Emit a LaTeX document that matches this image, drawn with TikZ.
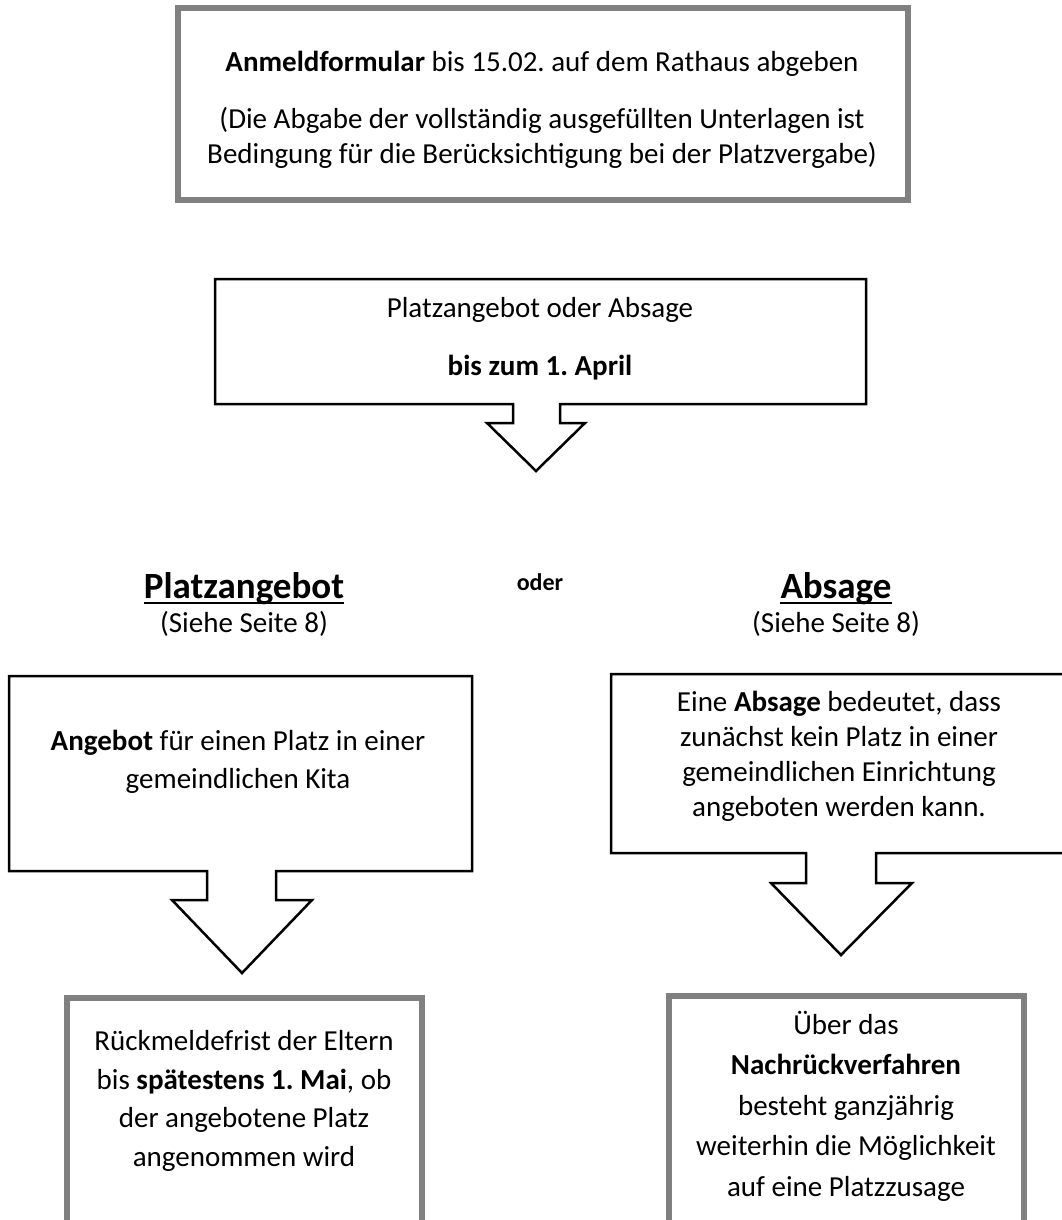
\documentclass[tikz,border=0pt]{standalone}
\usepackage{fontspec}
\setmainfont{Carlito}
\frenchspacing
\definecolor{framegray}{RGB}{128,128,128}
\tikzset{
  graybox/.style={draw=framegray,line width=6pt,fill=white},
  callout/.style={draw=black,line width=2.5pt,fill=white,line join=miter},
  txt/.style={align=center,inner sep=0pt,font=\fontsize{29}{#1}\selectfont},
  txt/.default=36,
  heading/.style={anchor=base,inner sep=0pt,font=\fontsize{37}{40}\selectfont\bfseries},
}
\begin{document}
\begin{tikzpicture}[x=1pt,y=-1pt]
  \useasboundingbox (0,0) rectangle (1062,1220);
  \clip (0,0) rectangle (1062,1220);
  % registration form
  \draw[graybox] (177.5,8.5) rectangle (907.5,199.5);
  \node[txt] (form) at (542,64) {\textbf{Anmeldformular} bis 15.02. auf dem Rathaus abgeben};
  \node[txt=35] (formnote) at (542,138) {(Die Abgabe der vollständig ausgefüllten Unterlagen ist\\Bedingung für die Berücksichtigung bei der Platzvergabe)};
  % offer or rejection
  \draw[callout] (215,279) -- (866,279) -- (866,404) -- (560,404) -- (560,423) -- (585,423)
    -- (536,471) -- (487,423) -- (513,423) -- (513,404) -- (215,404) -- cycle;
  \node[txt] (decision) at (540,310) {Platzangebot oder Absage};
  \node[txt] (deadline) at (540,368) {\textbf{bis zum 1. April}};
  \node[heading] (offer) at (244,598) {Platzangebot};
  \draw[line width=2.5pt] ([yshift=-5pt]offer.base west) -- ([yshift=-5pt]offer.base east);
  \node[txt] (offerref) at (244,624) {(Siehe Seite 8)};
  \node[font=\fontsize{24}{28}\selectfont\bfseries,inner sep=0pt] (or) at (540,582) {oder};
  \node[heading] (reject) at (836,598) {Absage};
  \draw[line width=2.5pt] ([yshift=-5pt]reject.base west) -- ([yshift=-5pt]reject.base east);
  \node[txt] (rejectref) at (836,624) {(Siehe Seite 8)};
  % left branch
  \draw[callout] (9,676) -- (472,676) -- (472,871) -- (276,871) -- (276,900) -- (312,900)
    -- (242,973) -- (172,900) -- (207,900) -- (207,871) -- (9,871) -- cycle;
  \node[txt=38] (offertext) at (238,762) {\textbf{Angebot} für einen Platz in einer\\gemeindlichen Kita};
  \draw[graybox] (67,998) rectangle (422,1260);
  \node[txt=38.5] (reply) at (244,1101) {Rückmeldefrist der Eltern\\bis \textbf{spätestens 1. Mai}, ob\\der angebotene Platz\\angenommen wird};
  % right branch
  \draw[callout] (611,674) -- (1080,674) -- (1080,853) -- (876,853) -- (876,883) -- (912,883)
    -- (841,955) -- (771,883) -- (806,883) -- (806,853) -- (611,853) -- cycle;
  \node[txt=35] (rejecttext) at (839,756) {Eine \textbf{Absage} bedeutet, dass\\zunächst kein Platz in einer\\gemeindlichen Einrichtung\\angeboten werden kann.};
  \draw[graybox] (669,996) rectangle (1024,1260);
  \node[txt=40.5] (waitlist) at (846,1106) {Über das\\\textbf{Nachrückverfahren}\\besteht ganzjährig\\weiterhin die Möglichkeit\\auf eine Platzzusage};
\end{tikzpicture}
\end{document}
